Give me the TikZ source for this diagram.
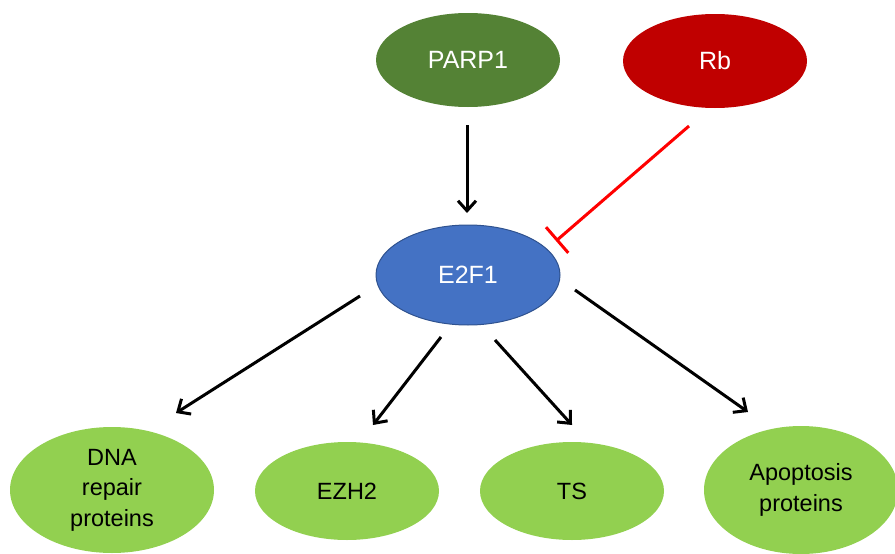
\documentclass[tikz,border=0pt]{standalone}
\usepackage{fontspec}
\setmainfont{Liberation Sans}
\usetikzlibrary{arrows.meta,shapes.geometric}
\definecolor{parpgreen}{HTML}{548235}
\definecolor{rbred}{HTML}{C00000}
\definecolor{e2fblue}{HTML}{4472C4}
\definecolor{e2fedge}{HTML}{2F528F}
\definecolor{leafgreen}{HTML}{92D050}
\tikzset{
  blob/.style={ellipse, inner sep=0pt, align=center},
  upper/.style={blob, text=white, font=\fontsize{25}{30}\selectfont, minimum width=184pt, minimum height=94pt},
  target/.style={blob, fill=leafgreen, text=black, font=\fontsize{23.5}{30.5}\selectfont},
  act/.style={draw=black, line width=3pt, -{Straight Barb[length=10pt,width=18pt,line width=3pt]}},
  inhib/.style={draw=red, line width=3pt, -{Bar[width=34pt,line width=3pt]}}
}
\begin{document}
\begin{tikzpicture}[x=1pt,y=-1pt]
\useasboundingbox (0,0) rectangle (895,554);
% regulators
\node[upper, fill=parpgreen] (parp) at (468,60) {PARP1};
\node[upper, fill=rbred] (rb) at (715,61) {Rb};
% transcription factor
\node[blob, fill=e2fblue, draw=e2fedge, line width=1pt, text=white, font=\fontsize{25}{30}\selectfont,
      minimum width=184pt, minimum height=100pt] (e2f) at (468,275) {E2F1};
% downstream targets
\node[target, minimum width=204pt, minimum height=126pt] (dna) at (112,490) {DNA\\repair\\proteins};
\node[target, minimum width=184pt, minimum height=98pt] (ezh) at (347,491) {EZH2};
\node[target, minimum width=184pt, minimum height=98pt] (ts) at (572,491) {TS};
\node[target, minimum width=194pt, minimum height=128pt] (apo) at (801,490) {Apoptosis\\proteins};
% connector end points
\coordinate (p1) at (467,125); \coordinate (p2) at (467,213);
\coordinate (r1) at (689,126); \coordinate (r2) at (556,241);
\coordinate (d1) at (360,296); \coordinate (d2) at (176,413);
\coordinate (z1) at (441,337); \coordinate (z2) at (373,425);
\coordinate (t1) at (495,340); \coordinate (t2) at (572,425);
\coordinate (a1) at (575,290); \coordinate (a2) at (748,412);
\draw[act] (p1) -- (p2);
\draw[inhib] (r1) -- (r2);
\draw[act] (d1) -- (d2);
\draw[act] (z1) -- (z2);
\draw[act] (t1) -- (t2);
\draw[act] (a1) -- (a2);
\end{tikzpicture}
\end{document}
